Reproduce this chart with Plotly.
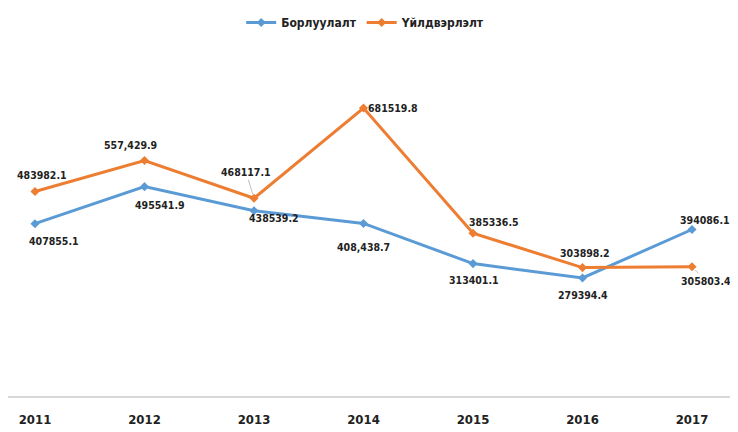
import plotly.graph_objects as go

years = ["2011", "2012", "2013", "2014", "2015", "2016", "2017"]
borluulalt = [407855.1, 495541.9, 438539.2, 408438.7, 313401.1, 279394.4, 394086.1]
uildverlelt = [483982.1, 557429.9, 468117.1, 681519.8, 385336.5, 303898.2, 305803.4]
borluulalt_labels = ["407855.1", "495541.9", "438539.2", "408,438.7", "313401.1", "279394.4", "394086.1"]
uildverlelt_labels = ["483982.1", "557,429.9", "468117.1", "681519.8", "385336.5", "303898.2", "305803.4"]

BLUE = "#5B9BD5"
ORANGE = "#ED7D31"
FONT = "DejaVu Sans Condensed, Liberation Sans Narrow, Arial Narrow, sans-serif"

xs = list(range(len(years)))

fig = go.Figure()
fig.add_trace(go.Scatter(x=xs, y=borluulalt, name="<b>Борлуулалт</b>", mode="lines+markers",
                         line=dict(color=BLUE, width=3), marker=dict(symbol="diamond", size=7, color=BLUE)))
fig.add_trace(go.Scatter(x=xs, y=uildverlelt, name="<b>Үйлдвэрлэлт</b>", mode="lines+markers",
                         line=dict(color=ORANGE, width=3), marker=dict(symbol="diamond", size=7, color=ORANGE)))

# label offsets (pixels) relative to the data point
b_off = [(19, -17), (15, -18), (20, -7), (0, -24), (1, -16), (0, -17), (13, 10)]
u_off = [(7, 17), (-14, 15), (-8, 26), (29, 0), (21, 11), (2, 15), (14, -14)]
leader = [False, False, True, False, False, False, True]

ann = []
for i in xs:
    dx, dy = b_off[i]
    ann.append(dict(x=i, y=borluulalt[i], xref="x", yref="y", text="<b>" + borluulalt_labels[i] + "</b>",
                    showarrow=False, xshift=dx, yshift=dy,
                    font=dict(family=FONT, size=10.5, color="#222")))
    dx, dy = u_off[i]
    if leader[i]:
        ann.append(dict(x=i, y=uildverlelt[i], xref="x", yref="y", text="<b>" + uildverlelt_labels[i] + "</b>",
                        showarrow=True, ax=dx, ay=-dy, arrowhead=0, arrowwidth=0.8, arrowcolor="#b0b0b0",
                        standoff=4, font=dict(family=FONT, size=10.5, color="#222")))
    else:
        ann.append(dict(x=i, y=uildverlelt[i], xref="x", yref="y", text="<b>" + uildverlelt_labels[i] + "</b>",
                        showarrow=False, xshift=dx, yshift=dy,
                        font=dict(family=FONT, size=10.5, color="#222")))

fig.update_layout(
    width=730, height=424,
    margin=dict(l=0, r=0, t=50, b=36, autoexpand=False),
    paper_bgcolor="white", plot_bgcolor="white",
    font=dict(family=FONT, size=13, color="#222"),
    annotations=ann,
    showlegend=True,
    legend=dict(orientation="h", x=0.49, xanchor="center", y=1.0, yanchor="top",
                yref="container", font=dict(family=FONT, size=12, color="#222")),
    xaxis=dict(range=[-0.2466, 6.42], tickvals=xs, ticktext=["<b>" + y + "</b>" for y in years],
               showgrid=False, zeroline=False, showline=True,
               linecolor="#d9d9d9", linewidth=2, ticks="", tickfont=dict(family=FONT, size=13, color="#222"),
               ticklabelstandoff=10),
    yaxis=dict(range=[0, 800000], showgrid=False, zeroline=False, showline=False,
               showticklabels=False, ticks=""),
)

fig.write_html("out.html")
